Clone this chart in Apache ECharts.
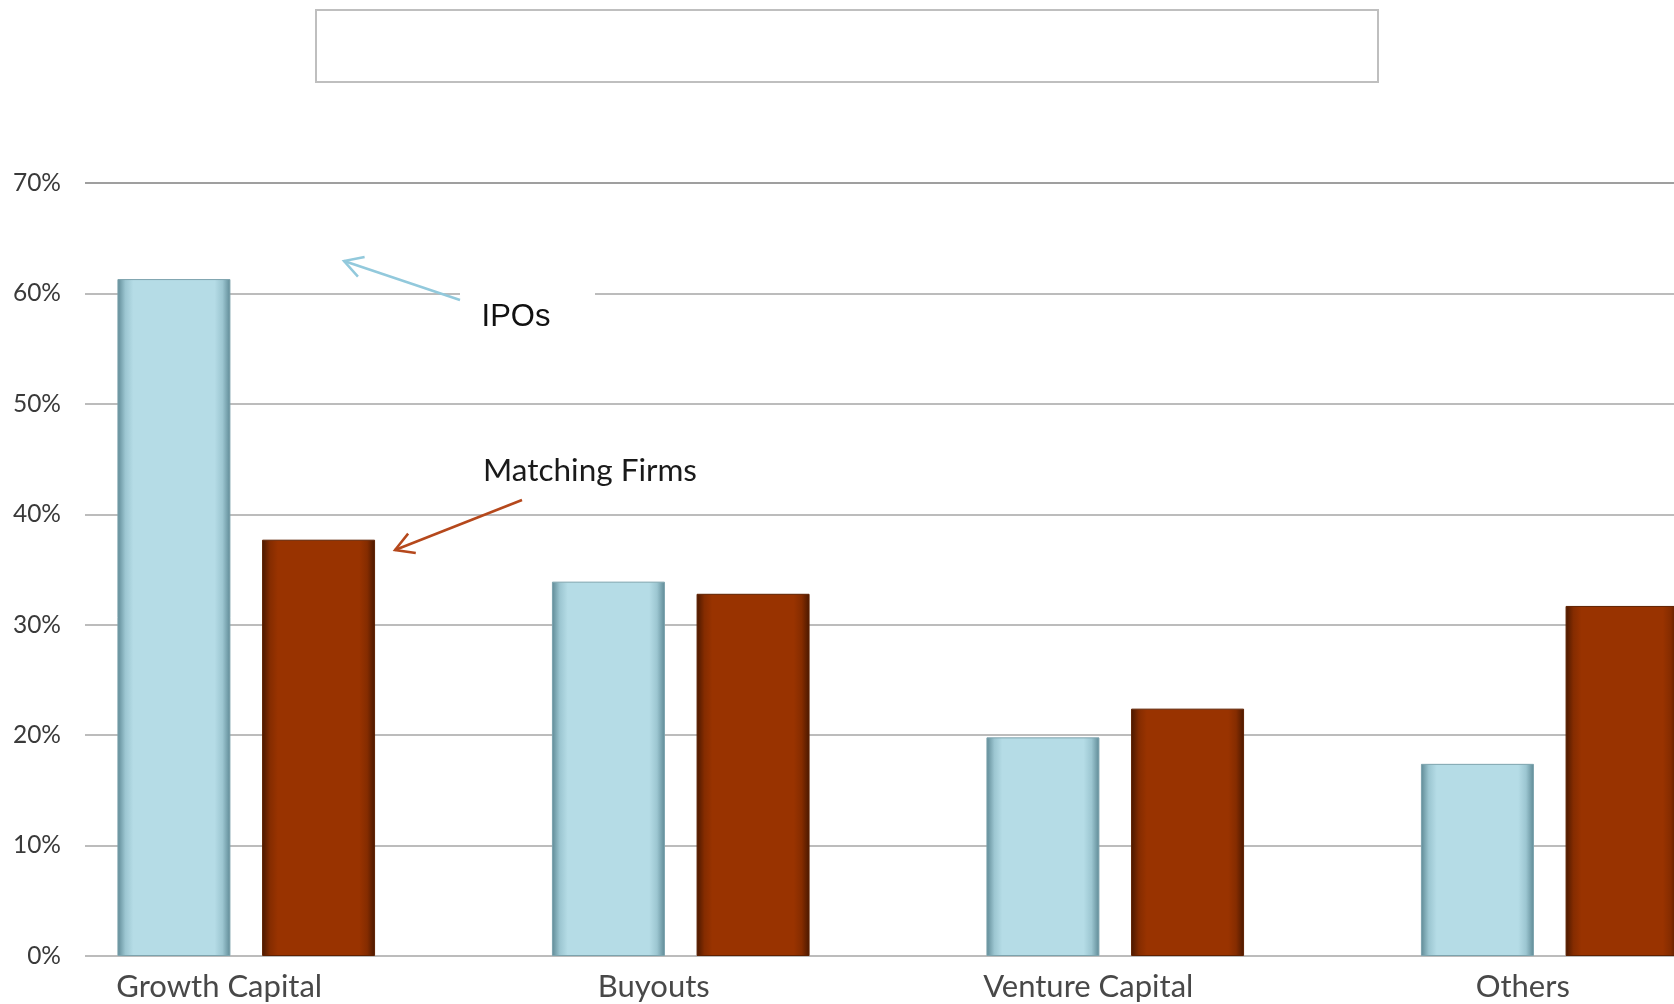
<!DOCTYPE html>
<html>
<head>
<meta charset="utf-8">
<script src="https://cdn.jsdelivr.net/npm/echarts@6/dist/echarts.min.js"></script>
<style>
  html, body { margin: 0; padding: 0; background: #fff; }
  #main { width: 1674px; height: 1004px; }
</style>
</head>
<body>
<div id="main"></div>
<script>
var categories = ['Growth Capital', 'Buyouts', 'Venture Capital', 'Others'];
var ipos = [0.613, 0.339, 0.198, 0.174];
var matchingFirms = [0.377, 0.328, 0.224, 0.317];
var yMin = 0, yMax = 0.7, yStep = 0.1;

var chart = echarts.init(document.getElementById('main'));

function grad(edge, mid, inner) {
  return new echarts.graphic.LinearGradient(0, 0, 1, 0, [
    { offset: 0, color: edge },
    { offset: 0.07, color: inner },
    { offset: 0.14, color: mid },
    { offset: 0.86, color: mid },
    { offset: 0.93, color: inner },
    { offset: 1, color: edge }
  ]);
}

// arrow from (x1,y1) to tip (x2,y2)
function arrow(x1, y1, x2, y2, color) {
  var a = Math.atan2(y2 - y1, x2 - x1), len = 21, sp = 0.52;
  return [
    { type: 'line', z: 20, shape: { x1: x1, y1: y1, x2: x2, y2: y2 },
      style: { stroke: color, lineWidth: 2.5 } },
    { type: 'polyline', z: 20,
      shape: { points: [
        [x2 - len * Math.cos(a - sp), y2 - len * Math.sin(a - sp)],
        [x2, y2],
        [x2 - len * Math.cos(a + sp), y2 - len * Math.sin(a + sp)]
      ] },
      style: { stroke: color, lineWidth: 2.5, fill: null } }
  ];
}

var lineColors = ['#a6a6a6', '#a6a6a6', '#a6a6a6', '#a6a6a6', '#a6a6a6', '#a6a6a6', '#a6a6a6', '#7f7f7f'];

var option = {
  backgroundColor: '#fff',
  animation: false,
  grid: [
    { left: 85, right: 0, top: 183, bottom: 48, outerBoundsMode: 'none' },
    { left: 29, width: 1738, top: 183, bottom: 48, outerBoundsMode: 'none' }
  ],
  xAxis: [
    { type: 'value', gridIndex: 0, show: false },
    {
      type: 'category', gridIndex: 1, data: categories,
      axisLine: { show: false }, axisTick: { show: false },
      axisLabel: {
        margin: 15, color: '#484848', fontFamily: 'Lato', fontSize: 31,
        padding: [0, 54, 0, 0]
      }
    }
  ],
  yAxis: [
    {
      type: 'value', gridIndex: 0, min: yMin, max: yMax, interval: yStep,
      axisLine: { show: false }, axisTick: { show: false },
      axisLabel: {
        margin: 24, color: '#3a3a3a', fontFamily: 'Lato', fontSize: 24.5,
        formatter: function (v) { return Math.round(v * 100) + '%'; }
      },
      splitLine: { lineStyle: { color: lineColors, width: 1.5 } }
    },
    { type: 'value', gridIndex: 1, min: yMin, max: yMax, interval: yStep, show: false }
  ],
  series: [
    {
      name: 'IPOs', type: 'bar', xAxisIndex: 1, yAxisIndex: 1,
      data: ipos, barWidth: 113, barGap: '28%',
      itemStyle: { color: grad('#5e8995', '#b5dce6', '#9cc6d1'), borderColor: '#7da3ad', borderWidth: 1 }
    },
    {
      name: 'Matching Firms', type: 'bar', xAxisIndex: 1, yAxisIndex: 1,
      data: matchingFirms, barWidth: 113, barGap: '28%',
      itemStyle: { color: grad('#4a1800', '#993300', '#852c00'), borderColor: '#5e2000', borderWidth: 1 }
    }
  ],
  graphic: [
    { type: 'rect', z: 20, shape: { x: 316, y: 10, width: 1062, height: 72 },
      style: { fill: '#fff', stroke: '#bfbfbf', lineWidth: 2 } },
    { type: 'rect', z: 15, shape: { x: 460, y: 286, width: 135, height: 58 },
      style: { fill: '#fff' } },
    { type: 'text', z: 20,
      style: { text: 'IPOs', x: 516, y: 317, textAlign: 'center', textVerticalAlign: 'middle',
        font: '31px "Liberation Sans", Arial, sans-serif', fill: '#111' } },
    { type: 'text', z: 20,
      style: { text: 'Matching Firms', x: 590, y: 471, textAlign: 'center', textVerticalAlign: 'middle',
        font: '31.5px Lato, sans-serif', fill: '#1a1a1a' } }
  ].concat(arrow(460, 300, 344, 261, '#92c9dc'))
   .concat(arrow(522, 500, 395, 550, '#b5481c'))
};

chart.setOption(option);
</script>
</body>
</html>
